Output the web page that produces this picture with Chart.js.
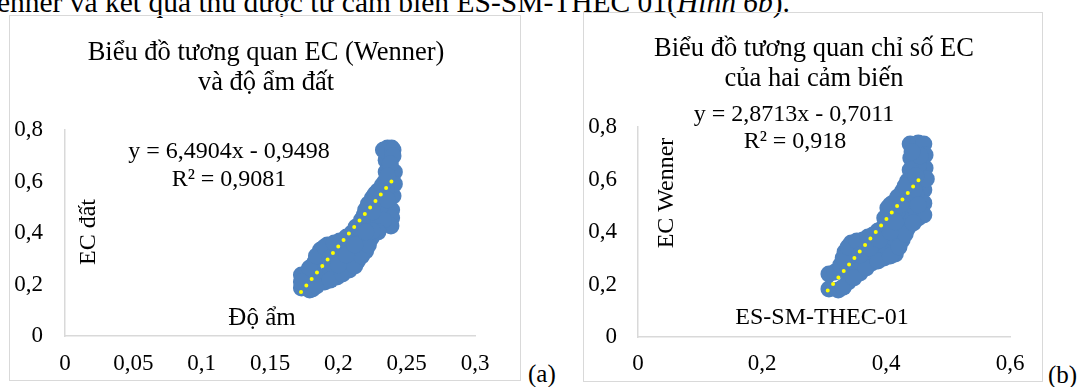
<!DOCTYPE html>
<html>
<head>
<meta charset="utf-8">
<script src="https://cdn.jsdelivr.net/npm/chart.js@4"></script>
<style>
  body { margin: 0; width: 1085px; height: 387px; background: #fff; position: relative; overflow: hidden;
         font-family: "Liberation Serif", "Times New Roman", serif; color: #000; }
  .box { position: absolute; border: 1px solid #d9d9d9; box-sizing: border-box; }
  .box canvas { position: absolute; left: 0; top: 0; }
  #topline { position: absolute; right: 295px; top: -13px; font-size: 29.5px; line-height: 30px; white-space: nowrap; }
  .caption { position: absolute; font-size: 25px; line-height: 25px; }
</style>
</head>
<body>
<div id="topline">enner và kết quả thu được từ cảm biến ES-SM-THEC 01(<i>Hình 6b</i>).</div>

<div class="box" style="left:9px;top:15px;width:512px;height:366px"><canvas id="chartA" width="510" height="364"></canvas></div>
<div class="caption" style="left:528px;top:361px">(a)</div>

<div class="box" style="left:583px;top:12px;width:460px;height:370px"><canvas id="chartB" width="458" height="368"></canvas></div>
<div class="caption" style="left:1048px;top:362px">(b)</div>

<script>
// (a) EC Wenner vs soil moisture
const moistureA = [0.173, 0.173, 0.179, 0.181, 0.190, 0.199, 0.208, 0.214, 0.220, 0.224, 0.226,
  0.176, 0.183, 0.187, 0.192, 0.201, 0.210, 0.217, 0.220, 0.225, 0.229, 0.234, 0.235, 0.236, 0.239,
  0.233, 0.240, 0.240, 0.239, 0.239, 0.2385, 0.240, 0.241, 0.241, 0.185, 0.194, 0.203, 0.210, 0.216,
  0.219, 0.223, 0.228, 0.232, 0.235, 0.235, 0.238, 0.230, 0.233, 0.229, 0.181, 0.178,
  0.193, 0.202, 0.210, 0.217,
  0.184, 0.194, 0.203, 0.212, 0.217, 0.222, 0.225, 0.179, 0.184, 0.190, 0.197, 0.206, 0.213,
  0.219, 0.222, 0.227, 0.232, 0.194, 0.200, 0.206, 0.212, 0.220, 0.225, 0.231, 0.236, 0.236, 0.173]
const ecSoilA = [0.237, 0.186, 0.179, 0.183, 0.210, 0.229, 0.256, 0.291, 0.330, 0.381, 0.435,
  0.241, 0.287, 0.334, 0.353, 0.369, 0.400, 0.450, 0.489, 0.536, 0.563, 0.598, 0.683, 0.730, 0.730,
  0.722, 0.722, 0.544, 0.489, 0.458, 0.427, 0.699, 0.637, 0.590, 0.233, 0.264, 0.295, 0.326, 0.365,
  0.404, 0.443, 0.489, 0.528, 0.567, 0.637, 0.668, 0.497, 0.450, 0.404, 0.217, 0.210,
  0.311, 0.334, 0.365, 0.408,
  0.194, 0.217, 0.241, 0.272, 0.311, 0.353, 0.408, 0.264, 0.311, 0.346, 0.361, 0.384, 0.423,
  0.470, 0.513, 0.551, 0.583, 0.303, 0.276, 0.315, 0.353, 0.404, 0.482, 0.536, 0.528, 0.621, 0.210]
const trendXA = [0.1727, 0.2415]
const trendYA = [0.1711, 0.6176]
const xTicksA = [0, 0.05, 0.1, 0.15, 0.2, 0.25, 0.3]
const yTicksA = [0, 0.2, 0.4, 0.6, 0.8]

// (b) EC of the two sensors
const sensorB = [0.308, 0.308, 0.323, 0.339, 0.358, 0.377, 0.397, 0.415, 0.426, 0.435, 0.452,
  0.318, 0.327, 0.334, 0.344, 0.363, 0.379, 0.395, 0.403, 0.411, 0.427, 0.435, 0.440, 0.444, 0.439,
  0.452, 0.461, 0.463, 0.463, 0.461, 0.461, 0.461, 0.339, 0.358, 0.377, 0.397, 0.413, 0.423, 0.432,
  0.442, 0.448, 0.452, 0.452, 0.455, 0.445, 0.439, 0.423,
  0.339, 0.361, 0.379, 0.405, 0.418, 0.431, 0.439, 0.465,
  0.331, 0.348, 0.368, 0.387, 0.407, 0.421, 0.431, 0.444, 0.331, 0.339, 0.353, 0.371, 0.387, 0.398,
  0.407, 0.419, 0.431, 0.442, 0.358, 0.374, 0.390, 0.407, 0.415, 0.423, 0.452, 0.448]
const wennerB = [0.240, 0.183, 0.179, 0.210, 0.244, 0.282, 0.301, 0.316, 0.370, 0.415, 0.453,
  0.248, 0.274, 0.324, 0.358, 0.370, 0.389, 0.415, 0.491, 0.510, 0.556, 0.594, 0.682, 0.728, 0.735,
  0.739, 0.735, 0.693, 0.644, 0.560, 0.510, 0.465, 0.255, 0.286, 0.324, 0.350, 0.377, 0.423, 0.469,
  0.507, 0.545, 0.598, 0.651, 0.690, 0.560, 0.465, 0.461,
  0.305, 0.328, 0.354, 0.450, 0.476, 0.514, 0.636, 0.602,
  0.190, 0.225, 0.263, 0.290, 0.309, 0.343, 0.392, 0.434, 0.301, 0.343, 0.366, 0.381, 0.404, 0.453,
  0.503, 0.533, 0.575, 0.705, 0.312, 0.339, 0.370, 0.400, 0.438, 0.503, 0.503, 0.613]
const trendXB = [0.306, 0.4597]
const trendYB = [0.1775, 0.6188]
const xTicksB = [0, 0.2, 0.4, 0.6]
const yTicksB = [0, 0.2, 0.4, 0.6, 0.8]

const FONT = 'Liberation Serif'

// text boxes that Excel places freely inside the chart
const freeText = {
  id: 'freeText',
  afterDraw(chart, args, opts) {
    const ctx = chart.ctx
    opts.items.forEach(function (t) {
      ctx.save()
      ctx.font = t.size + 'px "' + FONT + '"'
      ctx.fillStyle = '#000'
      ctx.textAlign = 'center'
      ctx.textBaseline = 'middle'
      ctx.translate(t.x, t.y)
      if (t.rotate) ctx.rotate(t.rotate)
      ctx.fillText(t.text, 0, 0)
      ctx.restore()
    })
  }
}

function comma(v) {
  return String(v).replace('.', ',')
}

function axis(ticks, fit, pad) {
  return {
    type: 'linear',
    min: ticks[0],
    max: ticks[ticks.length - 1],
    grid: { display: false, drawTicks: false },
    border: { display: true, color: '#d9d9d9', width: 1.5 },
    afterBuildTicks: function (s) { s.ticks = ticks.map(v => ({ value: v })) },
    afterFit: fit,
    ticks: {
      padding: pad,
      color: '#000',
      autoSkip: false,
      maxRotation: 0,
      font: { family: FONT, size: 23 },
      callback: comma
    }
  }
}

function makeChart(id, xs, ys, tx, ty, xTicks, yTicks, layout, texts) {
  const cloud = xs.map((x, i) => ({ x: x, y: ys[i] }))
  const trend = tx.map((x, i) => ({ x: x, y: ty[i] }))
  return new Chart(document.getElementById(id), {
    type: 'scatter',
    data: {
      datasets: [{
        type: 'line',
        data: trend,
        order: 1,
        borderColor: '#ffff00',
        borderWidth: 4,
        borderDash: [0, 8.4],
        borderCapStyle: 'round',
        pointRadius: 0,
        fill: false
      }, {
        data: cloud,
        order: 2,
        backgroundColor: '#4f81bd',
        borderWidth: 0,
        pointRadius: 8.5
      }]
    },
    options: {
      responsive: false,
      animation: false,
      events: [],
      layout: { padding: { left: 0, top: layout.top, right: layout.right, bottom: 0 } },
      plugins: { legend: { display: false }, tooltip: { enabled: false }, freeText: { items: texts } },
      scales: {
        x: axis(xTicks, s => { s.height = layout.xh }, layout.xpad),
        y: axis(yTicks, s => { s.width = layout.yw }, layout.ypad)
      }
    },
    plugins: [freeText]
  })
}

makeChart('chartA', moistureA, ecSoilA, trendXA, trendYA, xTicksA, yTicksA,
  { top: 114, right: 45, xh: 44, yw: 55, xpad: 14, ypad: 22 },
  [
    { text: 'Biểu đồ tương quan EC (Wenner)', x: 256, y: 37, size: 26.5 },
    { text: 'và độ ẩm đất', x: 256, y: 67, size: 26.5 },
    { text: 'y = 6,4904x - 0,9498', x: 219, y: 136, size: 24 },
    { text: 'R² = 0,9081', x: 219, y: 164, size: 24 },
    { text: 'EC đất', x: 79, y: 216, size: 24, rotate: -Math.PI / 2 },
    { text: 'Độ ẩm', x: 252, y: 302, size: 25 }
  ])

makeChart('chartB', sensorB, wennerB, trendXB, trendYB, xTicksB, yTicksB,
  { top: 114, right: 32, xh: 44, yw: 54, xpad: 13, ypad: 21 },
  [
    { text: 'Biểu đồ tương quan chỉ số EC', x: 230, y: 36, size: 26.5 },
    { text: 'của hai cảm biến', x: 230, y: 66, size: 26.5 },
    { text: 'y = 2,8713x - 0,7011', x: 210, y: 102, size: 24 },
    { text: 'R² = 0,918', x: 211, y: 129, size: 24 },
    { text: 'EC Wenner', x: 83, y: 180, size: 24, rotate: -Math.PI / 2 },
    { text: 'ES-SM-THEC-01', x: 238, y: 305, size: 24 }
  ])
</script>
</body>
</html>
